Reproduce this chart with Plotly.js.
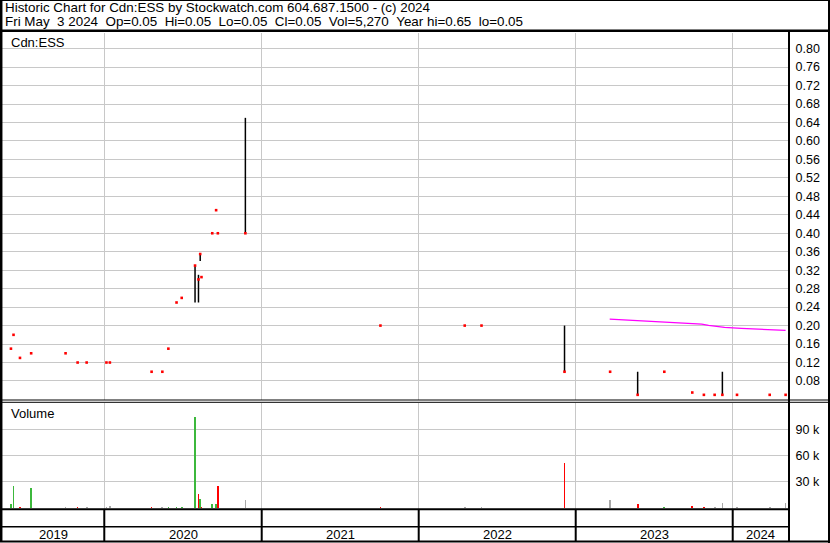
<!DOCTYPE html>
<html>
<head>
<meta charset="utf-8">
<script src="https://cdn.plot.ly/plotly-3.0.1.min.js"></script>
<style>
html,body{margin:0;padding:0;background:#fff;}
#chart{width:830px;height:543px;}
</style>
</head>
<body>
<div id="chart"></div>
<script>
// ---------- data ----------
const dates = [
  '2019-05-29','2019-06-04','2019-06-19','2019-07-15','2019-10-03','2019-10-31','2019-11-21',
  '2020-01-06','2020-01-14','2020-04-20','2020-05-15','2020-05-29','2020-06-17','2020-06-29',
  '2020-07-30','2020-08-07','2020-08-11','2020-08-14','2020-09-08','2020-09-17','2020-09-21','2020-11-24',
  '2021-10-04','2022-04-18','2022-05-27','2022-12-06',
  '2023-03-22','2023-05-25','2023-07-26','2023-09-29','2023-10-26','2023-11-20','2023-12-08',
  '2024-01-11','2024-03-27','2024-05-03'
];
const closes = [
  0.15,0.18,0.13,0.14,0.14,0.12,0.12,
  0.12,0.12,0.10,0.10,0.15,0.25,0.26,
  0.33,0.30,0.355,0.305,0.40,0.45,0.40,0.40,
  0.20,0.20,0.20,0.10,
  0.10,0.05,0.10,0.055,0.05,0.05,0.05,
  0.05,0.05,0.05
];
const highs = [
  0.15,0.18,0.13,0.14,0.14,0.12,0.12,
  0.12,0.12,0.10,0.10,0.15,0.25,0.26,
  0.33,0.31,0.355,0.305,0.40,0.45,0.40,0.65,
  0.20,0.20,0.20,0.20,
  0.10,0.10,0.10,0.055,0.05,0.05,0.10,
  0.05,0.05,0.05
];
const lows = [
  0.15,0.18,0.13,0.14,0.14,0.12,0.12,
  0.12,0.12,0.10,0.10,0.15,0.25,0.26,
  0.25,0.25,0.34,0.305,0.40,0.45,0.40,0.40,
  0.20,0.20,0.20,0.10,
  0.10,0.05,0.10,0.055,0.05,0.05,0.05,
  0.05,0.05,0.05
];
const volumes = [
  4000,24800,1000,22500,1000,1000,1000,
  1000,1500,1000,1000,1000,1000,1000,
  104400,15600,9800,1000,4000,4000,24800,8700,
  1000,1000,1000,51700,
  8700,4000,1000,2000,1000,1000,5500,
  1000,1000,5270
];
const maDates = ['2023-03-21','2023-05-18','2023-06-25','2023-08-03','2023-09-19','2023-10-21',
  '2023-11-06','2023-11-21','2023-12-13','2024-01-21','2024-03-16','2024-04-24','2024-05-03'];
const maValues = [0.214,0.211,0.209,0.207,0.205,0.203,0.2005,0.1985,0.196,0.194,0.192,0.190,0.1895];

const priceTicks = [0.08,0.12,0.16,0.20,0.24,0.28,0.32,0.36,0.40,0.44,0.48,0.52,0.56,0.60,0.64,0.68,0.72,0.76,0.80];
const volTicks = [30000,60000,90000];
const volTickText = ['30 k','60 k','90 k'];
const years = ['2019','2020','2021','2022','2023','2024'];
const yearStarts = ['2019-01-01','2020-01-01','2021-01-01','2022-01-01','2023-01-01','2024-01-01','2025-01-01'];

const titleLine1 = 'Historic Chart for Cdn:ESS by Stockwatch.com 604.687.1500 - (c) 2024';
const titleLine2 = 'Fri May\u00a0\u00a03 2024\u00a0\u00a0Op=0.05\u00a0\u00a0Hi=0.05\u00a0\u00a0Lo=0.05\u00a0\u00a0Cl=0.05\u00a0\u00a0Vol=5,270\u00a0\u00a0Year hi=0.65\u00a0\u00a0lo=0.05';

// ---------- geometry ----------
const L = 2, R = 789, T = 33, B = 509;
const xp = px => (px - L) / (R - L);
const yp = py => (B - py) / (B - T);
const xRange = ['2019-05-08 05:00', '2024-05-10 21:00'];
const FONT = 'Liberation Sans, Arial, sans-serif';

// ---------- traces ----------
const hlX = [], hlY = [];
for (let i = 0; i < dates.length; i++) {
  if (highs[i] > lows[i]) { hlX.push(dates[i], dates[i], null); hlY.push(lows[i], highs[i], null); }
}
const volColors = volumes.map((v, i) => {
  if (i === 0) return '#3cb83c';
  if (closes[i] > closes[i-1]) return '#3cb83c';
  if (closes[i] < closes[i-1]) return '#ff0000';
  return '#a8a8a8';
});

const traces = [
  {type:'scatter', mode:'lines', x:hlX, y:hlY, xaxis:'x', yaxis:'y',
   line:{color:'#000', width:1.5}, connectgaps:false, hoverinfo:'skip'},
  {type:'scatter', mode:'markers', x:dates, y:closes, xaxis:'x', yaxis:'y',
   marker:{symbol:'square', size:2.6, color:'#ff0000', line:{width:0}}},
  {type:'scatter', mode:'lines', x:maDates, y:maValues, xaxis:'x', yaxis:'y',
   line:{color:'#ff00ff', width:1.3}},
  {type:'bar', x:dates, y:volumes, xaxis:'x', yaxis:'y2',
   marker:{color:volColors, line:{width:0}}, width:4*86400000}
];

// ---------- shapes ----------
const line = (x0,y0,x1,y1,w,c) => ({type:'line', xref:'paper', yref:'paper',
  x0:xp(x0), y0:yp(y0), x1:xp(x1), y1:yp(y1), line:{color:c||'#000', width:w}, layer:'above'});
const shapes = [
  line(0,0.5,830,0.5,1),
  line(1.2,0,1.2,542,2.5),
  line(829,0,829,543,2),
  line(0,30.7,830,30.7,2.5),
  line(789,31,789,541,2),
  line(0,400,830,400,1),
  line(0,402.3,830,402.3,1),
  line(0,509.3,789,509.3,2),
  line(0,526.7,789,526.7,1.5),
  line(0,541.5,830,541.5,2)
];
for (let i = 1; i < yearStarts.length - 1; i++) {
  shapes.push({type:'line', xref:'x', yref:'paper', x0:yearStarts[i], x1:yearStarts[i],
    y0:yp(509), y1:yp(541.5), line:{color:'#000', width:2}, layer:'above'});
}

// ---------- annotations ----------
const annotations = [
  {xref:'paper', yref:'paper', x:xp(3), y:yp(8), xanchor:'left', yanchor:'middle', showarrow:false,
   text:titleLine1, font:{family:FONT, size:13.4, color:'#000'}},
  {xref:'paper', yref:'paper', x:xp(3), y:yp(21.5), xanchor:'left', yanchor:'middle', showarrow:false,
   text:titleLine2, font:{family:FONT, size:13.4, color:'#000'}},
  {xref:'paper', yref:'paper', x:xp(9), y:yp(42), xanchor:'left', yanchor:'middle', showarrow:false,
   text:'Cdn:ESS', font:{family:FONT, size:13, color:'#000'}},
  {xref:'paper', yref:'paper', x:xp(9), y:yp(413), xanchor:'left', yanchor:'middle', showarrow:false,
   text:'Volume', font:{family:FONT, size:13, color:'#000'}}
];
const r0 = new Date(xRange[0].replace(' ', 'T') + 'Z').getTime();
const r1 = new Date(xRange[1].replace(' ', 'T') + 'Z').getTime();
for (let i = 0; i < years.length; i++) {
  const a = Math.max(r0, new Date(yearStarts[i] + 'T00:00Z').getTime());
  const b = Math.min(r1, new Date(yearStarts[i+1] + 'T00:00Z').getTime());
  const mid = new Date((a + b) / 2).toISOString().replace('T', ' ').replace('Z', '');
  annotations.push({xref:'x', yref:'paper', x:mid, y:yp(534), xanchor:'center', yanchor:'middle',
    showarrow:false, text:years[i], font:{family:FONT, size:13, color:'#000'}});
}

// ---------- layout ----------
const layout = {
  width:830, height:543,
  margin:{l:L, r:830-R, t:T, b:543-B, pad:0},
  paper_bgcolor:'#fff', plot_bgcolor:'#fff',
  showlegend:false,
  bargap:0,
  font:{family:FONT, size:12, color:'#000'},
  xaxis:{type:'date', range:xRange, tickmode:'array', tickvals:yearStarts.slice(1,6),
    showticklabels:false, ticks:'', showgrid:true, gridcolor:'#c8c8c8', gridwidth:1,
    zeroline:false, showline:false, anchor:'y2'},
  yaxis:{domain:[yp(400), 1], range:[0.0388, 0.8338], side:'right', tickmode:'array',
    tickvals:priceTicks, tickformat:'.2f', ticks:'outside', ticklen:3, tickcolor:'rgba(0,0,0,0)',
    showgrid:true, gridcolor:'#c8c8c8', gridwidth:1, zeroline:false, showline:false,
    tickfont:{family:FONT, size:12.5, color:'#000'}, anchor:'x'},
  yaxis2:{domain:[0, yp(403)], range:[-1731, 120577], side:'right', tickmode:'array',
    tickvals:volTicks, ticktext:volTickText, ticks:'outside', ticklen:3, tickcolor:'rgba(0,0,0,0)',
    showgrid:true, gridcolor:'#c8c8c8', gridwidth:1, zeroline:false, showline:false,
    tickfont:{family:FONT, size:12.5, color:'#000'}, anchor:'x'},
  shapes:shapes,
  annotations:annotations
};

Plotly.newPlot('chart', traces, layout, {staticPlot:true, displayModeBar:false});
</script>
</body>
</html>
